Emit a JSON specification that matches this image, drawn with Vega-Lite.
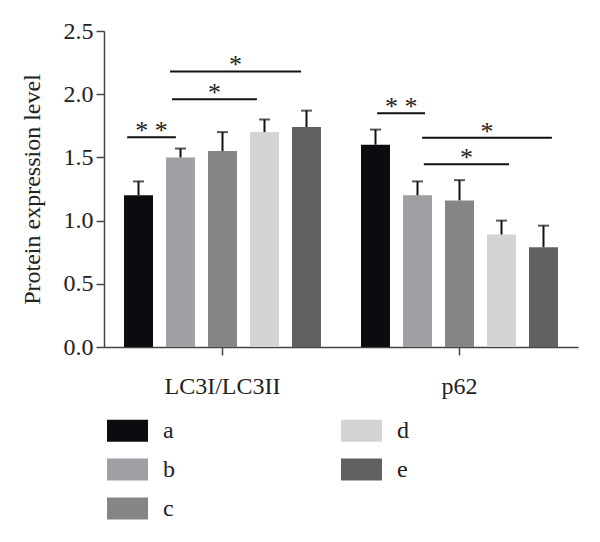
{
  "$schema": "https://vega.github.io/schema/vega-lite/v6.json",
  "width": 474,
  "height": 316,
  "autosize": {"type": "none"},
  "padding": {"left": 104, "top": 31, "right": 22, "bottom": 195},
  "config": {
    "view": {"stroke": null},
    "font": "Liberation Serif",
    "axis": {"labelFont": "Liberation Serif", "titleFont": "Liberation Serif", "labelColor": "#222", "titleColor": "#222", "grid": false, "domainColor": "#444", "tickColor": "#444", "domainWidth": 1.5, "tickWidth": 1.5},
    "legend": {"labelFont": "Liberation Serif", "labelColor": "#222"}
  },
  "datasets": {
    "bars": [
      {"group": "LC3I/LC3II", "bar": "a", "value": 1.20, "upper": 1.31},
      {"group": "LC3I/LC3II", "bar": "b", "value": 1.50, "upper": 1.57},
      {"group": "LC3I/LC3II", "bar": "c", "value": 1.55, "upper": 1.70},
      {"group": "LC3I/LC3II", "bar": "d", "value": 1.70, "upper": 1.80},
      {"group": "LC3I/LC3II", "bar": "e", "value": 1.74, "upper": 1.87},
      {"group": "p62", "bar": "a", "value": 1.60, "upper": 1.72},
      {"group": "p62", "bar": "b", "value": 1.20, "upper": 1.31},
      {"group": "p62", "bar": "c", "value": 1.16, "upper": 1.32},
      {"group": "p62", "bar": "d", "value": 0.89, "upper": 1.00},
      {"group": "p62", "bar": "e", "value": 0.79, "upper": 0.96}
    ],
    "brackets": [
      {"id": 1, "group": "LC3I/LC3II", "x_start": -0.27, "x_end": 0.89, "level": 1.66, "sig": "* *"},
      {"id": 2, "group": "LC3I/LC3II", "x_start": 0.80, "x_end": 2.82, "level": 1.96, "sig": "*"},
      {"id": 3, "group": "LC3I/LC3II", "x_start": 0.75, "x_end": 3.87, "level": 2.18, "sig": "*"},
      {"id": 4, "group": "p62", "x_start": 0.04, "x_end": 1.18, "level": 1.85, "sig": "* *"},
      {"id": 5, "group": "p62", "x_start": 1.11, "x_end": 4.20, "level": 1.656, "sig": "*"},
      {"id": 6, "group": "p62", "x_start": 1.15, "x_end": 3.18, "level": 1.445, "sig": "*"}
    ]
  },
  "encoding": {
    "x": {
      "field": "group", "type": "nominal",
      "scale": {"domain": ["LC3I/LC3II", "p62"], "paddingInner": 0.114, "paddingOuter": 0.057},
      "axis": {"title": null, "labelAngle": 0, "labelFontSize": 24, "tickSize": 8, "labelPadding": 19}
    },
    "y": {
      "type": "quantitative",
      "scale": {"domain": [0, 2.5], "nice": false},
      "axis": {"title": "Protein expression level", "titleFontSize": 24, "titleFontWeight": "normal", "labelFontSize": 24, "tickSize": 8, "labelPadding": 3, "values": [0, 0.5, 1, 1.5, 2, 2.5], "format": ".1f", "titlePadding": 19}
    }
  },
  "layer": [
    {
      "data": {"name": "bars"},
      "encoding": {
        "xOffset": {"field": "bar", "type": "nominal", "scale": {"domain": ["a", "b", "c", "d", "e"], "paddingInner": 0.31, "paddingOuter": 0.155}}
      },
      "layer": [
        {
          "mark": {"type": "bar"},
          "encoding": {
            "y": {"field": "value", "type": "quantitative"},
            "color": {
              "field": "bar", "type": "nominal",
              "scale": {"domain": ["a", "b", "c", "d", "e"], "range": ["#0c0c10", "#a0a0a4", "#858585", "#d4d4d4", "#606261"]},
              "legend": {
                "title": null, "orient": "none", "legendX": 3, "legendY": 379, "columns": 2, "direction": "vertical",
                "symbolType": "M-1,-0.54H1V0.54H-1Z", "symbolSize": 1681, "symbolStrokeWidth": 0,
                "labelFontSize": 24, "labelOffset": 15, "rowPadding": 6, "columnPadding": 166
              }
            }
          }
        },
        {
          "mark": {"type": "rule", "color": "#111", "strokeWidth": 2},
          "encoding": {"y": {"field": "value", "type": "quantitative"}, "y2": {"field": "upper"}}
        },
        {
          "mark": {"type": "tick", "color": "#111", "thickness": 2, "size": 11},
          "encoding": {"y": {"field": "upper", "type": "quantitative"}}
        }
      ]
    },
    {
      "data": {"name": "brackets"},
      "transform": [{"fold": ["x_start", "x_end"], "as": ["end", "pos"]}],
      "encoding": {
        "xOffset": {"field": "pos", "type": "quantitative", "scale": {"domain": [-0.5, 4.5], "nice": false, "zero": false}}
      },
      "layer": [
        {
          "mark": {"type": "line", "color": "#111", "strokeWidth": 2},
          "encoding": {"y": {"field": "level", "type": "quantitative"}, "detail": {"field": "id"}}
        },
        {
          "transform": [{"aggregate": [{"op": "mean", "field": "pos", "as": "pos"}], "groupby": ["id", "group", "level", "sig"]}],
          "mark": {"type": "text", "fontSize": 26, "baseline": "alphabetic", "dy": 2, "color": "#222"},
          "encoding": {"y": {"field": "level", "type": "quantitative"}, "text": {"field": "sig"}}
        }
      ]
    }
  ],
  "resolve": {"scale": {"xOffset": "independent"}}
}
